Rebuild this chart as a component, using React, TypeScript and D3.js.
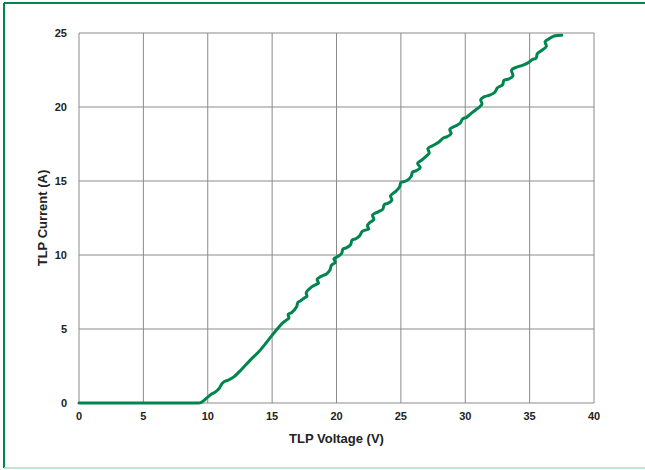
import * as d3 from 'd3';
import { useRef, useEffect } from 'react';

// TLP curve: [voltage V, current A]
const tlpVoltage = [
  0, 3.0, 6.0, 8.5, 9.2, 9.45, 10.0, 10.3, 10.6, 10.9, 11.1, 11.3, 11.6, 12.0, 12.6, 13.3, 14.0, 14.7, 15.3, 15.8,
  16.1, 16.3, 16.25, 16.5, 16.9, 17.0, 17.2, 17.5, 17.7, 17.65, 18.0, 18.4, 18.6, 18.5, 18.9,
  19.2, 19.5, 19.6, 19.9, 19.8, 20.1, 20.4, 20.5, 20.8, 21.1, 21.2, 21.5, 21.8, 22.0, 22.3,
  22.5, 22.4, 22.6, 22.9, 22.8, 23.2, 23.6, 23.7, 24.0, 24.3, 24.2, 24.6, 24.9, 25.0, 25.4,
  25.8, 25.9, 26.2, 26.5, 26.3, 26.6, 27.0, 27.2, 27.1, 27.5, 27.9, 28.3, 28.6, 28.9, 28.8,
  29.2, 29.6, 29.8, 30.1, 30.5, 30.8, 31.1, 31.3, 31.2, 31.5, 31.9, 32.3, 32.5, 32.9, 33.0,
  33.4, 33.7, 33.6, 34.0, 34.4, 34.9, 35.2, 35.5, 35.6, 35.9, 36.3, 36.2, 36.5, 36.9, 37.5,
];
const tlpCurrent = [
  0, 0, 0, 0, 0, 0.02, 0.4, 0.6, 0.75, 1.0, 1.3, 1.45, 1.55, 1.75, 2.25, 2.9, 3.5, 4.25, 4.9, 5.4,
  5.6, 5.75, 6.0, 6.1, 6.5, 6.8, 6.9, 7.1, 7.2, 7.45, 7.8, 8.0, 8.1, 8.35, 8.6,
  8.7, 9.0, 9.3, 9.5, 9.75, 9.9, 10.1, 10.4, 10.5, 10.7, 11.0, 11.1, 11.3, 11.6, 11.7,
  11.75, 12.0, 12.2, 12.4, 12.7, 12.9, 13.1, 13.4, 13.5, 13.7, 14.0, 14.3, 14.6, 14.9, 15.0,
  15.3, 15.6, 15.7, 15.9, 16.2, 16.4, 16.7, 16.9, 17.2, 17.4, 17.6, 17.9, 18.0, 18.2, 18.5,
  18.7, 18.9, 19.2, 19.3, 19.6, 19.8, 20.0, 20.2, 20.5, 20.7, 20.8, 21.0, 21.3, 21.5, 21.8,
  21.9, 22.1, 22.5, 22.7, 22.8, 23.0, 23.2, 23.3, 23.6, 23.8, 24.1, 24.4, 24.6, 24.8, 24.85,
];
const xTicks = [0, 5, 10, 15, 20, 25, 30, 35, 40];
const yTicks = [0, 5, 10, 15, 20, 25];

const W = 645;
const H = 470;
const green = '#00854f';
const font = 'Arial, "Liberation Sans", sans-serif';

const App = () => {
  const svgRef = useRef<SVGSVGElement | null>(null);

  useEffect(() => {
    const svg = d3.select(svgRef.current);
    svg.selectAll('*').remove();

    const margin = { top: 33, left: 79, right: 51, bottom: 67 };
    const x = d3.scaleLinear().domain([0, 40]).range([margin.left, W - margin.right]);
    const y = d3.scaleLinear().domain([0, 25]).range([H - margin.bottom, margin.top]);

    // frame of the figure
    svg.append('line').attr('x1', 4).attr('x2', W).attr('y1', 3).attr('y2', 3)
      .attr('stroke', green).attr('stroke-width', 2);
    svg.append('line').attr('x1', 4).attr('x2', 4).attr('y1', 3).attr('y2', 468)
      .attr('stroke', green).attr('stroke-width', 2);
    svg.append('line').attr('x1', 4).attr('x2', W).attr('y1', 468).attr('y2', 468)
      .attr('stroke', '#a9dcc6').attr('stroke-width', 1.5);

    // grid
    const grid = svg.append('g').attr('stroke', '#8a8a8a').attr('stroke-width', 1);
    xTicks.forEach(t => {
      grid.append('line').attr('x1', x(t)).attr('x2', x(t))
        .attr('y1', y(0)).attr('y2', y(25));
    });
    yTicks.forEach(t => {
      grid.append('line').attr('x1', x(0)).attr('x2', x(40))
        .attr('y1', y(t)).attr('y2', y(t));
    });

    // tick labels
    svg.append('g').selectAll('text').data(xTicks).enter().append('text')
      .attr('x', d => x(d)).attr('y', y(0) + 17)
      .attr('text-anchor', 'middle')
      .attr('font-family', font).attr('font-weight', 'bold').attr('font-size', 11)
      .attr('fill', '#222').text(d => d);
    svg.append('g').selectAll('text').data(yTicks).enter().append('text')
      .attr('x', x(0) - 12).attr('y', d => y(d) + 4)
      .attr('text-anchor', 'end')
      .attr('font-family', font).attr('font-weight', 'bold').attr('font-size', 11)
      .attr('fill', '#222').text(d => d);

    // axis titles
    svg.append('text').attr('x', (x(0) + x(40)) / 2).attr('y', y(0) + 40)
      .attr('text-anchor', 'middle')
      .attr('font-family', font).attr('font-weight', 'bold').attr('font-size', 13)
      .attr('fill', '#222').text('TLP Voltage (V)');
    svg.append('text')
      .attr('transform', `translate(47,${(y(0) + y(25)) / 2}) rotate(-90)`)
      .attr('text-anchor', 'middle')
      .attr('font-family', font).attr('font-weight', 'bold').attr('font-size', 13)
      .attr('fill', '#222').text('TLP Current (A)');

    // curve
    const pts: [number, number][] = tlpVoltage.map((v, i) => [v, tlpCurrent[i]]);
    const line = d3.line<[number, number]>()
      .x(d => x(d[0]))
      .y(d => y(d[1]))
      .curve(d3.curveCatmullRom.alpha(0.5));
    svg.append('path').datum(pts)
      .attr('d', line)
      .attr('fill', 'none')
      .attr('stroke', green)
      .attr('stroke-width', 3)
      .attr('stroke-linejoin', 'round')
      .attr('stroke-linecap', 'round');
  }, []);

  return (
    <svg ref={svgRef} width={W} height={H}
      style={{ position: 'absolute', left: 0, top: 0, background: '#fff' }} />
  );
};

export default App;
